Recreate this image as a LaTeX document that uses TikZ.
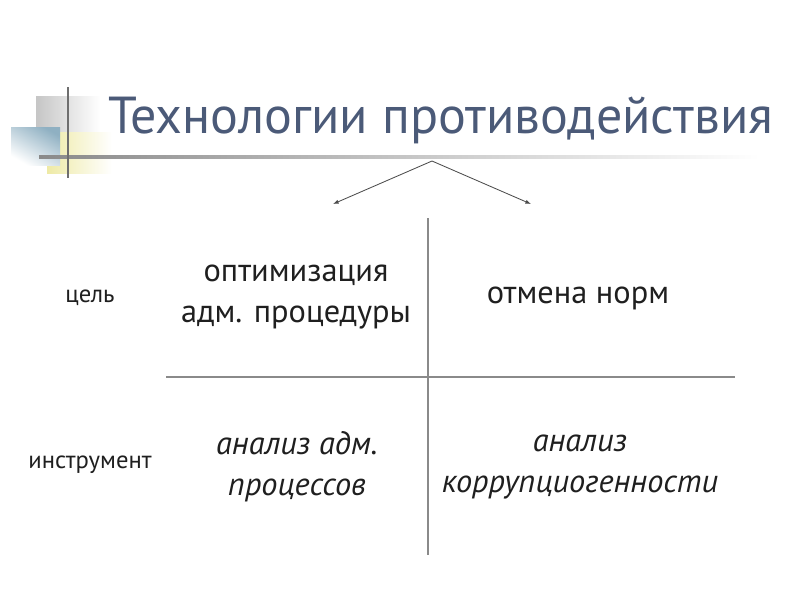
\documentclass[tikz,border=0pt]{standalone}
\usepackage{fontspec}
\setmainfont{PT Sans}
\usetikzlibrary{arrows.meta}

\definecolor{titleblue}{HTML}{4B5A78}
\definecolor{decoblue}{HTML}{8FB0C2}
\definecolor{decoyellow}{HTML}{EEEAA6}
\definecolor{rulegray}{HTML}{8A8A8A}

\begin{document}
\begin{tikzpicture}[
  x=0.025cm, y=-0.025cm,
  title/.style={font=\fontsize{37}{42}\selectfont, text=titleblue, anchor=base west, inner sep=0pt},
  cell/.style={font=\fontsize{23}{29}\selectfont, text=black!88, align=center},
  italcell/.style={cell, font=\fontsize{23}{29}\selectfont\itshape},
  rowlabel/.style={font=\fontsize{17.5}{21}\selectfont, text=black!88},
  grid/.style={draw=rulegray, line width=1.1pt},
  arr/.style={-{Latex[length=4pt,width=3pt]}, draw=black!70, line width=0.6pt}
]
\useasboundingbox (0,0) rectangle (800,600);

% ---------- Title decoration ----------
\shade[left color=gray!45, right color=white] (36,96) rectangle (100,133);
\shade[left color=decoyellow, right color=white] (47,132) rectangle (112,173);
\shade[shading=axis, top color=decoblue, bottom color=white, shading angle=-30] (11,127) rectangle (60,165);
\shade[left color=rulegray, right color=white] (39,155.5) rectangle (760,158.5);
\draw[rulegray!80!black, line width=1.3pt] (68,87) -- (68,178);

\node[title] (title) at (108,133) {Технологии противодействия};

% ---------- Branching arrows ----------
\coordinate (apex) at (432,161);
\coordinate (lefttip) at (333,204);
\coordinate (righttip) at (531,204);
\draw[arr] (apex) -- (lefttip);
\draw[arr] (apex) -- (righttip);

% ---------- Table ----------
\coordinate (vtop) at (428,218);
\coordinate (vbot) at (428,555);
\coordinate (hleft) at (166,377);
\coordinate (hright) at (735,377);
\draw[grid] (vtop) -- (vbot);
\draw[grid] (hleft) -- (hright);

\node[rowlabel] (goal) at (90,298) {цель};
\node[rowlabel] (tool) at (90,465) {инструмент};

\node[cell] (optim) at (296,297) {оптимизация\\адм. процедуры};
\node[cell] (cancel) at (578,298) {отмена норм};
\node[italcell] (procanal) at (297,467) {анализ адм.\\процессов};
\node[italcell] (corranal) at (580,467) {анализ\\коррупциогенности};

\end{tikzpicture}
\end{document}
